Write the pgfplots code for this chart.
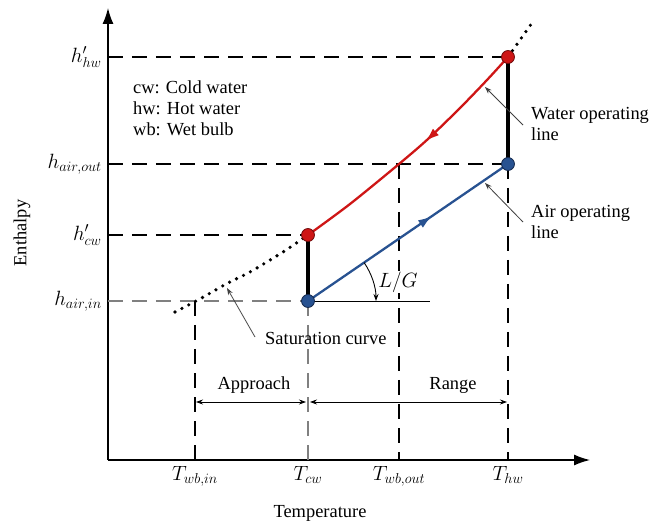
\documentclass[border=0pt]{standalone}
\usepackage{fontspec}
\setmainfont{Liberation Serif}
\usepackage{pgfplots}
\pgfplotsset{compat=1.18}
\usetikzlibrary{arrows.meta,decorations.markings}

% larger subscripts for the symbol labels
\DeclareMathSizes{19.5}{19.5}{15.6}{12}

\definecolor{wline}{RGB}{206,22,22}
\definecolor{wdark}{RGB}{110,10,10}
\definecolor{aline}{RGB}{40,82,145}
\definecolor{adark}{RGB}{20,40,75}
\definecolor{guidegray}{RGB}{128,128,128}

\newcommand{\bigfont}{\fontsize{18.5}{21}\selectfont}
\newcommand{\mathfont}{\fontsize{19.5}{22}\selectfont}

\tikzset{
  guide/.style={black, line width=1.1pt, dash pattern=on 15bp off 9bp},
  thinarrow/.style={line width=0.8pt, black!75, -{Stealth[length=7pt,width=5pt]}},
  satdots/.style={black, line width=3.6pt, line cap=round, dash pattern=on 0pt off 7.8pt},
}

\begin{document}
\bigfont
\begin{tikzpicture}
\begin{axis}[
  scale only axis, width=482bp, height=452bp,
  xmin=0, xmax=482, ymin=0, ymax=452,
  axis lines=left,
  axis line style={line width=1.3pt, -{Latex[length=16pt,width=11pt]}},
  xtick={87,200,291,400},
  xticklabels={$T_{wb,in}$,$T_{cw}$,$T_{wb,out}$,$T_{hw}$},
  ytick={159,225,296,403},
  yticklabels={$h_{air,in}$,$h'_{cw}$,$h_{air,out}$,$h'_{hw}$},
  major tick length=0pt,
  tick label style={font=\mathfont},
  clip=false,
]
% page frame
\path (axis cs:-108,-61) rectangle (axis cs:557,460);

% guide lines to the axes
\addplot[guide] coordinates {(0,403) (400,403)};
\addplot[guide] coordinates {(0,296) (400,296)};
\addplot[guide] coordinates {(0,225) (200,225)};
\addplot[guide, guidegray] coordinates {(0,159) (200,159)};
\addplot[guide] coordinates {(87,159) (87,0)};
\addplot[guide, guidegray] coordinates {(200,159) (200,0)};
\addplot[guide] coordinates {(291,296) (291,0)};
\addplot[guide] coordinates {(400,296) (400,0)};

% saturation curve (dotted parts)
\addplot[satdots, smooth]
  coordinates {(67,148) (90,160) (120,177) (142,188) (175,208) (200,225)};
\addplot[satdots, smooth]
  coordinates {(400,403) (412,420) (426,440)};

% water operating line (on the saturation curve)
\addplot[wline, line width=2.3pt, smooth, postaction={decorate},
  decoration={markings, mark=at position 0.56 with {\arrowreversed{Latex[length=14pt,width=9pt]}}}]
  coordinates {(200,225) (242,256) (291,296) (320,321) (352,352) (379,380) (400,403)};

% air operating line
\addplot[aline, line width=2.3pt, postaction={decorate},
  decoration={markings, mark=at position 0.62 with {\arrow{Latex[length=14pt,width=9pt]}}}]
  coordinates {(200,159) (400,296)};

% vertical connectors
\addplot[black, line width=4.5pt] coordinates {(200,159) (200,225)};
\addplot[black, line width=4.5pt] coordinates {(400,296) (400,403)};

% end points
\addplot[only marks, mark=*, mark size=6.5pt, mark options={fill=wline, draw=wdark, line width=0.8pt}]
  coordinates {(200,225) (400,403)};
\addplot[only marks, mark=*, mark size=6.5pt, mark options={fill=aline, draw=adark, line width=0.8pt}]
  coordinates {(200,159) (400,296)};

% L/G angle
\draw[line width=1pt] (axis cs:200,159) -- (axis cs:322,159);
\draw[line width=0.9pt, -{Stealth[length=7pt,width=5pt]}]
  (axis cs:200,159) ++(34.4:68bp) arc[start angle=34.4, end angle=0, radius=68bp];
\node[font=\fontsize{21}{23}\selectfont, fill=white, inner sep=1pt] at (axis cs:290,178) {$L/G$};

% approach and range
\draw[line width=0.8pt, {Stealth[length=7pt,width=5pt]}-{Stealth[length=7pt,width=5pt]}]
  (axis cs:88,58) -- (axis cs:198,58);
\draw[line width=0.8pt, {Stealth[length=7pt,width=5pt]}-{Stealth[length=7pt,width=5pt]}]
  (axis cs:202,58) -- (axis cs:399,58);
\node[font=\bigfont] at (axis cs:146,75) {Approach};
\node[font=\bigfont] at (axis cs:345,75) {Range};

% abbreviations
\node[font=\bigfont, anchor=west, align=left, inner sep=0pt] at (axis cs:25,352)
  {cw: Cold water\\hw: Hot water\\wb: Wet bulb};

% callouts
\draw[thinarrow] (axis cs:415,335) -- (axis cs:377,373);
\node[font=\bigfont, anchor=west, align=left, inner sep=0pt] at (axis cs:423,336)
  {Water operating\\line};
\draw[thinarrow] (axis cs:415,238) -- (axis cs:377,277);
\node[font=\bigfont, anchor=west, align=left, inner sep=0pt] at (axis cs:423,238)
  {Air operating\\line};
\draw[thinarrow] (axis cs:147,123) -- (axis cs:119,172);
\node[font=\bigfont, anchor=west, inner sep=0pt] at (axis cs:157,122) {Saturation curve};

% axis titles
\node[font=\bigfont, rotate=90] at (axis cs:-86,227) {Enthalpy};
\node[font=\bigfont] at (axis cs:212,-53) {Temperature};
\end{axis}
\end{tikzpicture}
\end{document}
